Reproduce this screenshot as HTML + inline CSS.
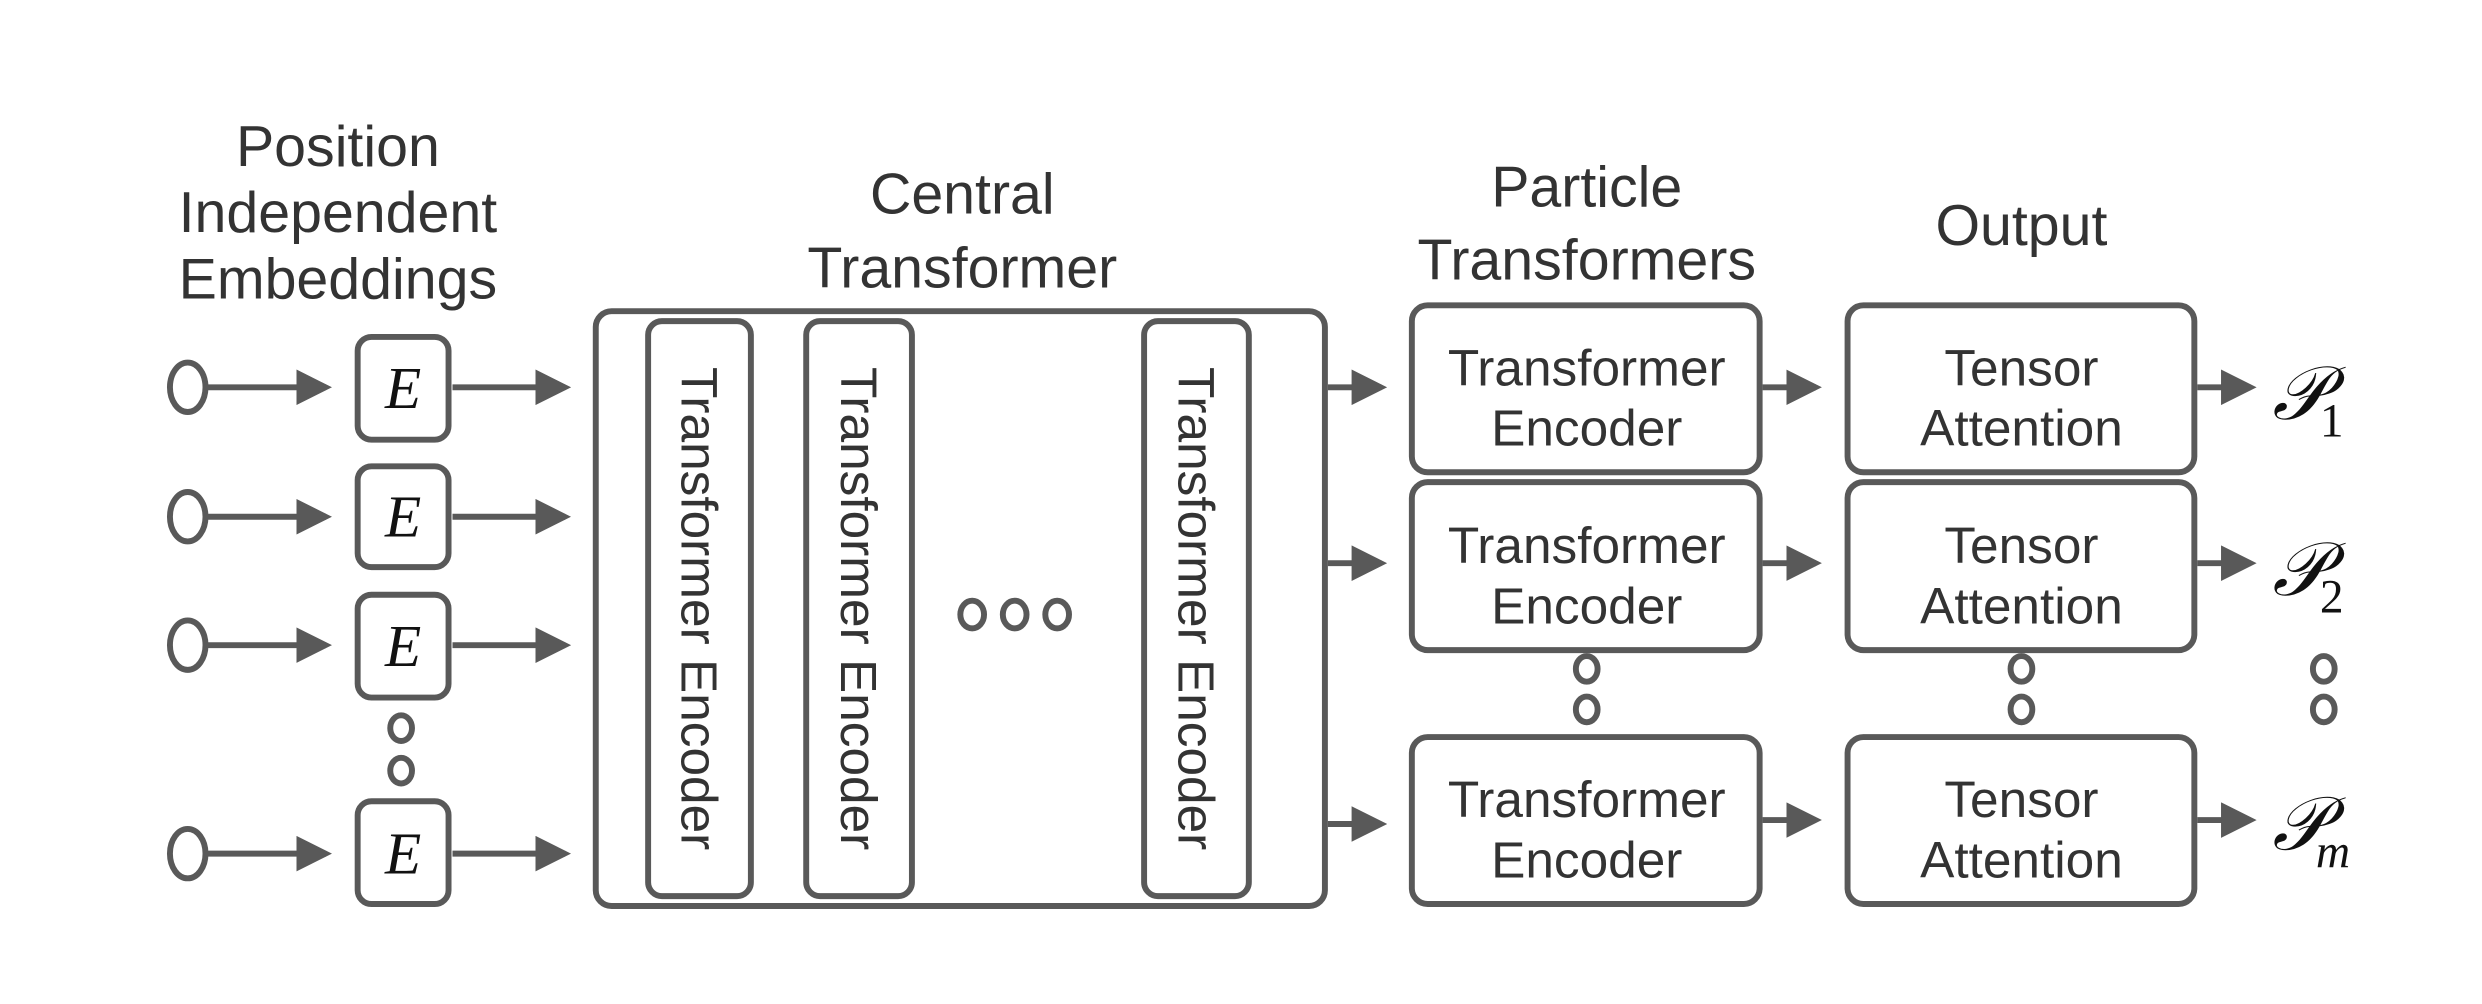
<!DOCTYPE html>
<html><head><style>body{margin:0;background:#fff}</style></head><body>
<svg width="2482" height="999" viewBox="0 0 2482 999" xmlns="http://www.w3.org/2000/svg">
<defs><marker id="a" markerWidth="6" markerHeight="6" refX="5" refY="3" orient="auto" markerUnits="strokeWidth"><path d="M0,0 L6,3 L0,6z" fill="#595959"/></marker></defs>
<g transform="scale(0.988,0.988)">
<g font-family="'Liberation Sans',sans-serif" fill="#333" text-anchor="middle" font-size="58">
<text x="342" y="168">Position</text><text x="342" y="235">Independent</text><text x="342" y="302">Embeddings</text>
<text x="974" y="216">Central</text><text x="974" y="291">Transformer</text>
<text x="1606" y="209">Particle</text><text x="1606" y="283">Transformers</text>
<text x="2046" y="248">Output</text>
</g>
<g stroke="#595959" stroke-width="6" fill="none">
<ellipse cx="190" cy="392" rx="18" ry="25"/><ellipse cx="190" cy="523" rx="18" ry="25"/><ellipse cx="190" cy="653" rx="18" ry="25"/><ellipse cx="190" cy="864" rx="18" ry="25"/>
<rect x="362" y="341" width="92" height="104" rx="14"/><rect x="362" y="472" width="92" height="102" rx="14"/><rect x="362" y="602" width="92" height="104" rx="14"/><rect x="362" y="811" width="92" height="104" rx="14"/>
<ellipse cx="406" cy="737" rx="11" ry="13"/><ellipse cx="406" cy="780" rx="11" ry="13"/>
<rect x="603" y="315" width="738" height="602" rx="16"/>
<rect x="656" y="325" width="104" height="582" rx="14"/><rect x="816" y="325" width="107" height="582" rx="14"/><rect x="1158" y="325" width="106" height="582" rx="14"/>
<ellipse cx="984" cy="622" rx="12" ry="14"/><ellipse cx="1027" cy="622" rx="12" ry="14"/><ellipse cx="1070" cy="622" rx="12" ry="14"/>
<rect x="1429" y="309" width="352" height="169" rx="16"/><rect x="1429" y="488" width="352" height="170" rx="16"/><rect x="1429" y="746" width="352" height="169" rx="16"/>
<rect x="1870" y="309" width="351" height="169" rx="16"/><rect x="1870" y="488" width="351" height="170" rx="16"/><rect x="1870" y="746" width="351" height="169" rx="16"/>
<ellipse cx="1606" cy="677" rx="11" ry="13"/><ellipse cx="1606" cy="718" rx="11" ry="13"/>
<ellipse cx="2046" cy="677" rx="11" ry="13"/><ellipse cx="2046" cy="718" rx="11" ry="13"/>
<ellipse cx="2352" cy="677" rx="11" ry="13"/><ellipse cx="2352" cy="718" rx="11" ry="13"/>
<g marker-end="url(#a)">
<line x1="210" y1="392" x2="330" y2="392"/><line x1="210" y1="523" x2="330" y2="523"/><line x1="210" y1="653" x2="330" y2="653"/><line x1="210" y1="864" x2="330" y2="864"/>
<line x1="458" y1="392" x2="572" y2="392"/><line x1="458" y1="523" x2="572" y2="523"/><line x1="458" y1="653" x2="572" y2="653"/><line x1="458" y1="864" x2="572" y2="864"/>
<line x1="1344" y1="392" x2="1398" y2="392"/><line x1="1344" y1="570" x2="1398" y2="570"/><line x1="1344" y1="834" x2="1398" y2="834"/>
<line x1="1784" y1="392" x2="1838" y2="392"/><line x1="1784" y1="570" x2="1838" y2="570"/><line x1="1784" y1="830" x2="1838" y2="830"/>
<line x1="2224" y1="392" x2="2278" y2="392"/><line x1="2224" y1="570" x2="2278" y2="570"/><line x1="2224" y1="830" x2="2278" y2="830"/>
</g></g>
<g font-family="'Liberation Serif',serif" font-style="italic" font-size="60" fill="#111" text-anchor="middle">
<text x="408" y="413">E</text><text x="408" y="543">E</text><text x="408" y="674">E</text><text x="408" y="884">E</text>
</g>
<g font-family="'Liberation Sans',sans-serif" fill="#333" font-size="52" text-anchor="middle">
<text transform="translate(690,616) rotate(90)">Transformer Encoder</text>
<text transform="translate(851,616) rotate(90)">Transformer Encoder</text>
<text transform="translate(1193,616) rotate(90)">Transformer Encoder</text>
<text x="1606" y="390">Transformer</text><text x="1606" y="451">Encoder</text>
<text x="1606" y="570">Transformer</text><text x="1606" y="631">Encoder</text>
<text x="1606" y="827">Transformer</text><text x="1606" y="888">Encoder</text>
<text x="2046" y="390">Tensor</text><text x="2046" y="451">Attention</text>
<text x="2046" y="570">Tensor</text><text x="2046" y="631">Attention</text>
<text x="2046" y="827">Tensor</text><text x="2046" y="888">Attention</text>
</g>
<g font-family="'Liberation Serif',serif" fill="#111">
<text x="2300" y="424" font-size="76" font-style="italic">𝒫</text><text x="2348" y="442" font-size="48">1</text>
<text x="2300" y="602" font-size="76" font-style="italic">𝒫</text><text x="2348" y="620" font-size="48">2</text>
<text x="2300" y="860" font-size="76" font-style="italic">𝒫</text><text x="2344" y="878" font-size="48" font-style="italic">m</text>
</g>
</g>
</svg>
</body></html>
